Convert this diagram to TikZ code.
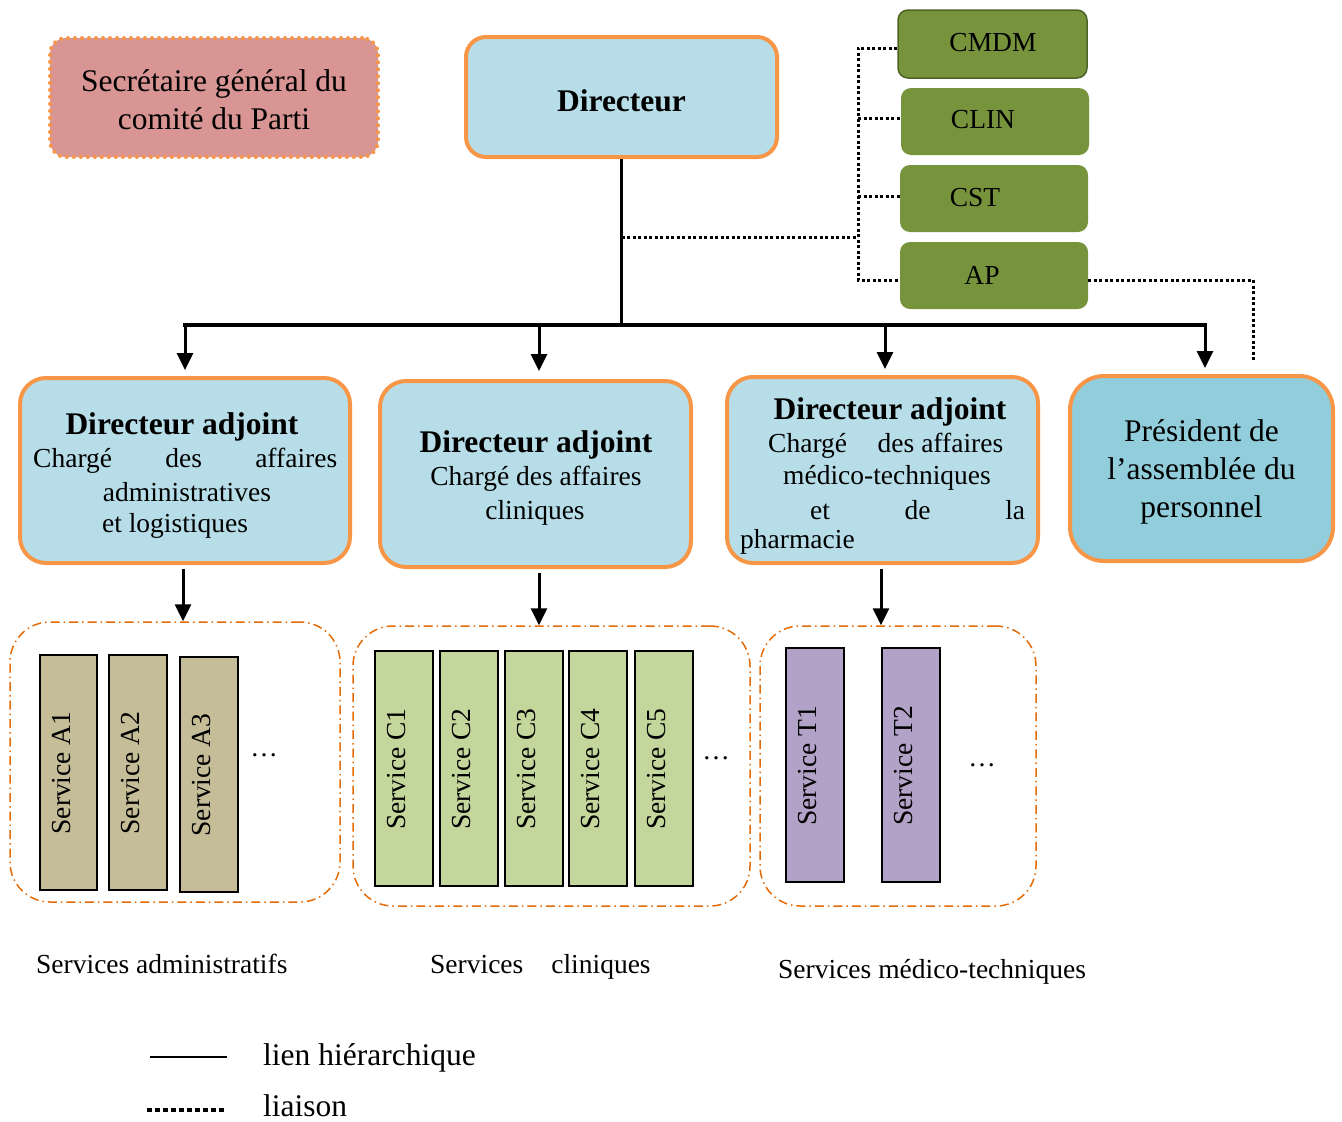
\documentclass[tikz,border=0pt]{standalone}
\usepackage{fontspec}
\setmainfont{Liberation Serif}
\usetikzlibrary{arrows.meta}
\definecolor{orgb}{HTML}{F79646}
\definecolor{lblue}{HTML}{B7DEE8}
\definecolor{mblue}{HTML}{92CDDC}
\definecolor{pinkf}{HTML}{D99594}
\definecolor{greenf}{HTML}{77933C}
\definecolor{greend}{HTML}{4F6228}
\definecolor{tanf}{HTML}{C4BD97}
\definecolor{lgreen}{HTML}{C3D69B}
\definecolor{purp}{HTML}{B2A2C7}
\definecolor{grpor}{HTML}{E36C09}
\newcommand\szA{\fontsize{31.5}{38}\selectfont}
\newcommand\szB{\fontsize{27.5}{33}\selectfont}
\begin{document}
\begin{tikzpicture}[x=1pt,y=-1pt,
  mainbox/.style={draw=orgb, line width=4pt, fill=lblue, rounded corners=26pt, inner sep=0pt},
  secbox/.style={draw=orgb, fill=pinkf, line width=4pt, dash pattern=on 0pt off 7pt, line cap=round, rounded corners=16pt, inner sep=0pt},
  grbox/.style={fill=greenf, rounded corners=10pt, inner sep=0pt, minimum width=188pt, minimum height=67pt},
  grp/.style={draw=grpor, line width=1.5pt, dash pattern=on 9pt off 4pt on 1.5pt off 4pt, rounded corners=40pt, minimum height=280pt, inner sep=0pt},
  svc/.style={draw=black, line width=2pt, minimum width=57pt, minimum height=235pt, inner sep=0pt},
  svctxt/.style={rotate=90, font=\szB, inner sep=0pt},
  txt/.style={inner sep=0pt, font=\szB},
  big/.style={inner sep=0pt, font=\szA},
  hier/.style={line width=3.5pt},
  arr/.style={line width=3pt, -{Triangle[width=16pt,length=17pt]}},
  liai/.style={line width=3pt, dash pattern=on 3pt off 2.5pt}
]
\useasboundingbox (0,0) rectangle (1342,1122);

% top boxes
\node[secbox, minimum width=328pt, minimum height=119pt] (sec) at (214,97.5) {};
\node[big, align=center] (sect) at (214,100) {Secrétaire général du\\comité du Parti};
\node[mainbox, rounded corners=20pt, minimum width=311pt, minimum height=120pt] (dir) at (621.5,97) {};
\node[big, font=\szA\bfseries] (dirt) at (621.5,101) {Directeur};

% green committees
\node[grbox, draw=greend, line width=1.5pt, minimum width=189pt, minimum height=68pt] (cmdm) at (992.5,44) {};
\node[grbox] (clin) at (995,121.5) {};
\node[grbox] (cst) at (994,198.5) {};
\node[grbox] (ap) at (994,275.5) {};
\node[txt] (cmdmt) at (993,43) {CMDM};
\node[txt] (clint) at (983,120) {CLIN};
\node[txt] (cstt) at (975,198) {CST};
\node[txt] (apt) at (982,275) {AP};

% deputy boxes
\node[mainbox, minimum width=330pt, minimum height=185pt] (da1) at (185,470.5) {};
\node[mainbox, minimum width=311pt, minimum height=186pt] (da2) at (535.5,474) {};
\node[mainbox, minimum width=311pt, minimum height=186pt] (da3) at (882.5,470) {};
\node[mainbox, fill=mblue, rounded corners=34pt, minimum width=263pt, minimum height=185pt] (pres) at (1201.5,468.5) {};

\node[big, font=\szA\bfseries] (da1a) at (182,427) {Directeur adjoint};
\node[txt, anchor=west] (da1b) at (33,461) {\makebox[304pt][s]{Chargé des affaires}};
\node[txt] (da1c) at (187,492) {administratives};
\node[txt] (da1d) at (175,526) {et logistiques};

\node[big, font=\szA\bfseries] (da2a) at (536,445) {Directeur adjoint};
\node[txt] (da2b) at (536,479) {Chargé des affaires};
\node[txt] (da2c) at (535,513) {cliniques};

\node[big, font=\szA\bfseries] (da3a) at (890,412) {Directeur adjoint};
\node[txt, anchor=west] (da3b) at (768,446) {\makebox[235pt]{Chargé\hfill\ des affaires}};
\node[txt] (da3c) at (887,478) {médico-techniques};
\node[txt, anchor=west] (da3d) at (810,510) {\makebox[215pt][s]{et de la}};
\node[txt, anchor=west] (da3e) at (740,542) {pharmacie};

\node[big, align=center] (prest) at (1201.5,472) {Président de\\l’assemblée du\\personnel};

% hierarchy
\coordinate (b1) at (185,325);
\coordinate (b2) at (539,325);
\coordinate (b3) at (885,325);
\coordinate (b4) at (1205,325);
\draw[line width=3pt] (dir.south) -- (dir.south |- b1);
\draw[hier, line cap=rect] (b1) -- (b4);
\draw[arr, shorten >=6pt] (b1) -- (b1 |- da1.north);
\draw[arr, shorten >=8pt] (b2) -- (b2 |- da2.north);
\draw[arr, shorten >=6pt] (b3) -- (b3 |- da3.north);
\draw[arr, shorten >=6pt] (b4) -- (b4 |- pres.north);

% groups
\node[grp, minimum width=330pt] (g1) at (175,762) {};
\node[grp, minimum width=397pt] (g2) at (551.5,766) {};
\node[grp, minimum width=276pt] (g3) at (898,766) {};

\coordinate (d1) at (183,563);
\coordinate (d2) at (539,567);
\coordinate (d3) at (881,563);
\draw[arr, shorten <=6pt] (d1) -- (d1 |- g1.north);
\draw[arr, shorten <=6pt] (d2) -- (d2 |- g2.north);
\draw[arr, shorten <=6pt] (d3) -- (d3 |- g3.north);

% services
\node[svc, fill=tanf] (a1) at (68.5,772.5) {};
\node[svc, fill=tanf, minimum width=58pt] (a2) at (138,772.5) {};
\node[svc, fill=tanf, minimum width=58pt] (a3) at (209,774.5) {};
\node[svctxt] (a1t) at (62,773) {Service A1};
\node[svctxt] (a2t) at (131,773) {Service A2};
\node[svctxt] (a3t) at (202,775) {Service A3};
\node[txt] (adots) at (264,755) {…};

\node[svc, fill=lgreen, minimum width=58pt] (c1) at (404,768.5) {};
\node[svc, fill=lgreen, minimum width=58pt] (c2) at (468.5,768.5) {};
\node[svc, fill=lgreen, minimum width=58pt] (c3) at (533.5,768.5) {};
\node[svc, fill=lgreen, minimum width=58pt] (c4) at (598,768.5) {};
\node[svc, fill=lgreen, minimum width=58pt] (c5) at (663.5,768.5) {};
\node[svctxt] (c1t) at (397,769) {Service C1};
\node[svctxt] (c2t) at (461.5,769) {Service C2};
\node[svctxt] (c3t) at (526.5,769) {Service C3};
\node[svctxt] (c4t) at (591,769) {Service C4};
\node[svctxt] (c5t) at (656.5,769) {Service C5};
\node[txt] (cdots) at (716,758) {…};

\node[svc, fill=purp, minimum width=58pt, minimum height=234pt] (t1) at (815,765) {};
\node[svc, fill=purp, minimum width=58pt, minimum height=234pt] (t2) at (911,765) {};
\node[svctxt] (t1t) at (808,766) {Service T1};
\node[svctxt] (t2t) at (904,766) {Service T2};
\node[txt] (tdots) at (982,765) {…};

% group labels
\node[txt, anchor=west] (lab1) at (36,964) {Services administratifs};
\node[txt, anchor=west] (lab2) at (430,967) {Services\hspace{28pt}cliniques};
\node[txt, anchor=west] (lab3) at (778,972) {Services médico-techniques};

% liaison lines
\coordinate (vtop) at (858,48);
\coordinate (vmid) at (858,237);
\coordinate (vbot) at (858,280);
\coordinate (pc) at (1253,360);
\draw[liai] (dir.south |- vmid) -- (vmid);
\draw[liai] (cmdm.west |- vtop) -- (vtop) -- (vbot) -- (ap.west |- vbot);
\draw[liai] (858,118) -- (clin.west |- 0,118);
\draw[liai] (858,196) -- (cst.west |- 0,196);
\draw[liai] (ap.east |- vbot) -- (pc |- vbot) -- (pc);

% legend
\coordinate (l1a) at (150,1057);
\coordinate (l1b) at (227,1057);
\coordinate (l2a) at (147,1110);
\coordinate (l2b) at (227,1110);
\draw[line width=2pt] (l1a) -- (l1b);
\draw[line width=4.5pt, dash pattern=on 4.5pt off 3.5pt] (l2a) -- (l2b);
\node[big, anchor=west] (leg1) at (263,1058) {lien hiérarchique};
\node[big, anchor=west] (leg2) at (263,1106) {liaison};
\end{tikzpicture}
\end{document}
